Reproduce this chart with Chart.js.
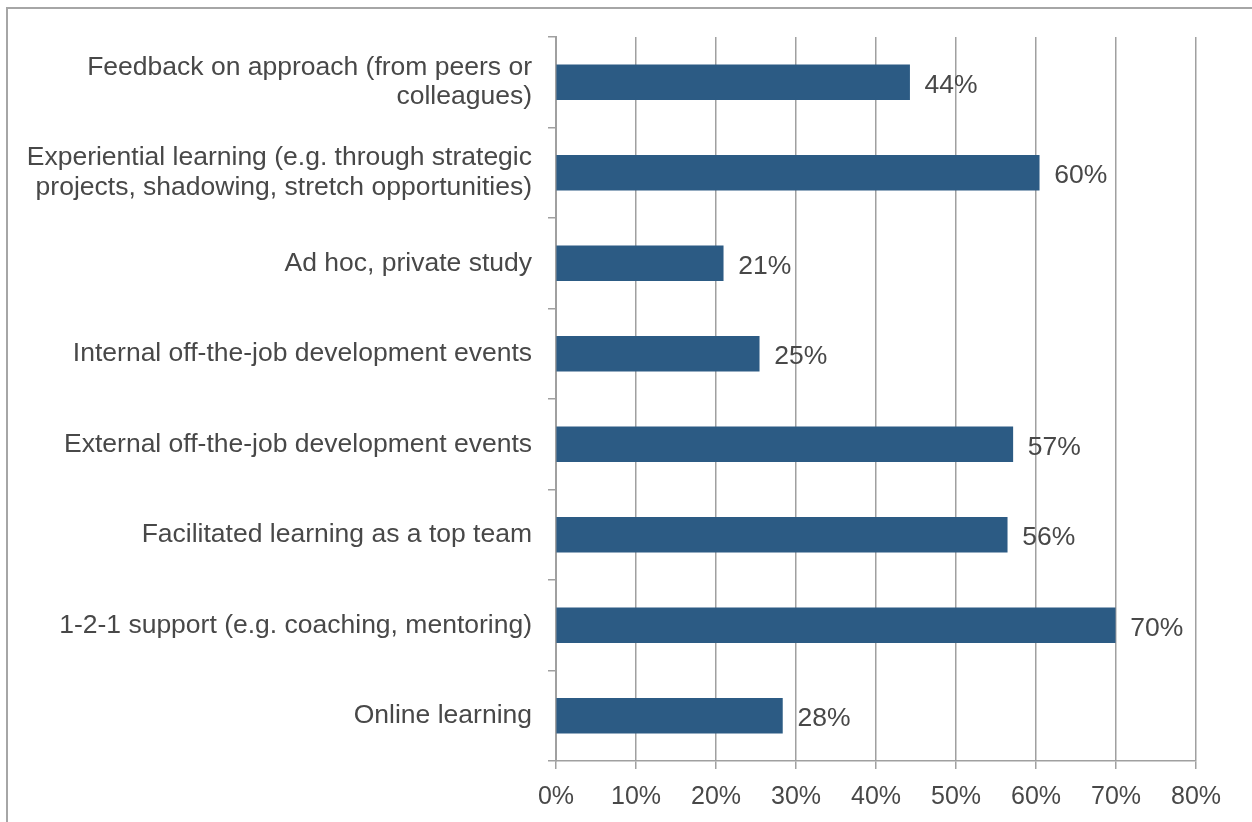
<!DOCTYPE html>
<html>
<head>
<meta charset="utf-8">
<script src="https://cdn.jsdelivr.net/npm/chart.js@4.4.1/dist/chart.umd.min.js"></script>
<style>
  html, body { margin: 0; padding: 0; background: #fff; overflow: hidden; }
  #frame { position: absolute; left: 6px; top: 7px; width: 3000px; height: 3000px; border: 2px solid #a6a6a6; }
  #wrap { position: absolute; left: 0; top: 0; width: 1252px; height: 822px; }
</style>
</head>
<body>
<div id="frame"></div>
<div id="wrap"><canvas id="barCanvas"></canvas></div>
<script>
var categories = [
  ['Feedback on approach (from peers or', 'colleagues)'],
  ['Experiential learning (e.g. through strategic', 'projects, shadowing, stretch opportunities)'],
  'Ad hoc, private study',
  'Internal off-the-job development events',
  'External off-the-job development events',
  'Facilitated learning as a top team',
  '1-2-1 support (e.g. coaching, mentoring)',
  'Online learning'
];
var shares = [44.2, 60.4, 20.9, 25.4, 57.1, 56.4, 69.9, 28.3];
var xTicks = [0, 10, 20, 30, 40, 50, 60, 70, 80];

var textColor = '#484848';
var lineColor = '#a0a0a0';
var fontFamily = 'Arial, "Liberation Sans", sans-serif';

var valueLabels = {
  id: 'valueLabels',
  afterDatasetsDraw: function (chart) {
    var ctx = chart.ctx;
    var meta = chart.getDatasetMeta(0);
    ctx.save();
    ctx.font = '26.5px ' + fontFamily;
    ctx.fillStyle = textColor;
    ctx.textAlign = 'left';
    ctx.textBaseline = 'middle';
    meta.data.forEach(function (bar, i) {
      ctx.fillText(Math.round(shares[i]) + '%', bar.x + 15, bar.y + 3);
    });
    ctx.restore();
  }
};

function barChartMethod() {
  this.barChart = new Chart(document.getElementById('barCanvas').getContext('2d'), {
    type: 'bar',
    data: {
      labels: categories,
      datasets: [{
        data: shares,
        backgroundColor: '#2c5b84',
        barThickness: 35
      }]
    },
    options: {
      indexAxis: 'y',
      responsive: true,
      maintainAspectRatio: false,
      animation: false,
      layout: { padding: { top: 37, right: 56, left: 0, bottom: 0 } },
      plugins: { legend: { display: false }, tooltip: { enabled: false } },
      scales: {
        x: {
          min: 0,
          max: 80,
          afterBuildTicks: function (axis) {
            axis.ticks = xTicks.map(function (v) { return { value: v }; });
          },
          afterFit: function (axis) { axis.height = 61; },
          grid: { color: lineColor, lineWidth: 1.5, tickLength: 8, drawTicks: true },
          border: { color: lineColor, width: 1.5 },
          ticks: {
            color: textColor,
            font: { family: fontFamily, size: 25 },
            padding: 13,
            maxRotation: 0,
            callback: function (v) { return v + '%'; }
          }
        },
        y: {
          afterFit: function (axis) { axis.width = 556; },
          grid: { offset: true, drawOnChartArea: false, color: lineColor, lineWidth: 1.5, tickLength: 8 },
          border: { color: lineColor, width: 2 },
          ticks: {
            color: textColor,
            font: { family: fontFamily, size: 26.5, lineHeight: 1.11 },
            padding: 16,
            crossAlign: 'near'
          }
        }
      }
    },
    plugins: [valueLabels]
  });
}

document.addEventListener('DOMContentLoaded', function () {
  barChartMethod();
});
</script>
</body>
</html>
